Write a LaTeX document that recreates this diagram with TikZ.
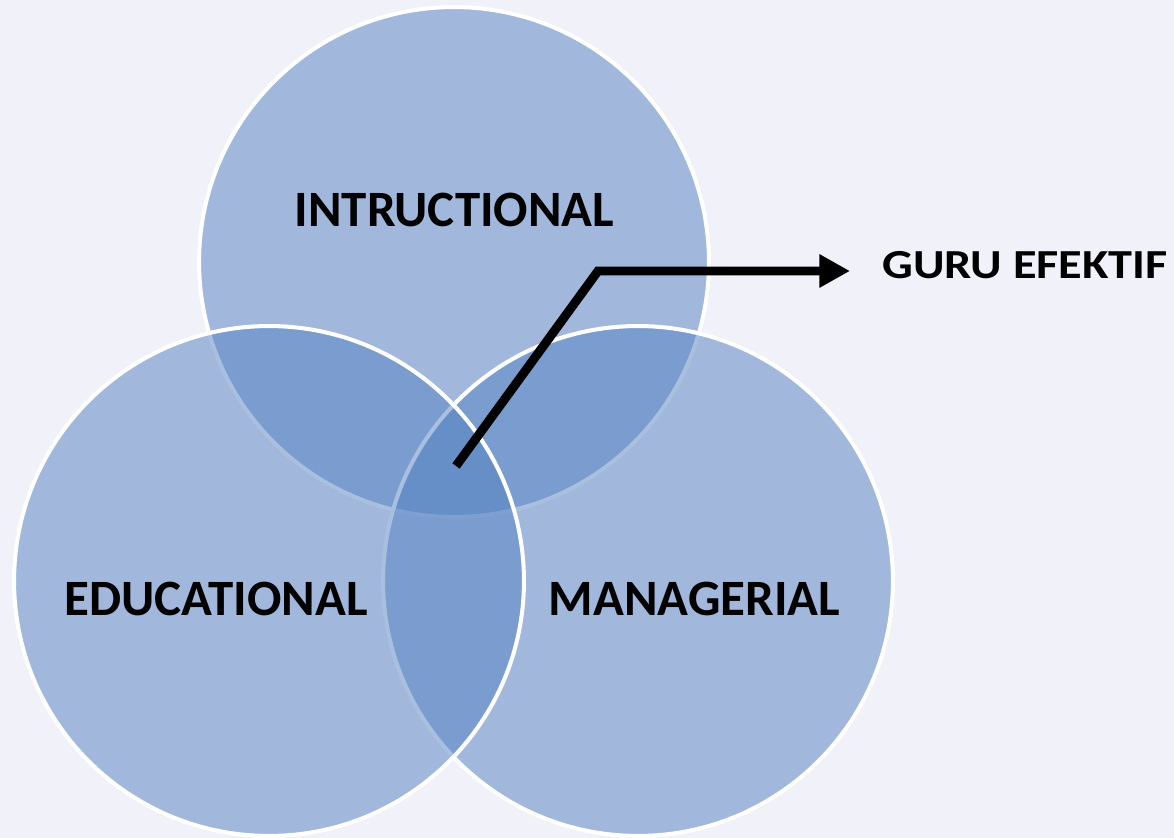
\documentclass[tikz,border=0pt]{standalone}
\usepackage{fontspec}
\setmainfont{Carlito}
\usepackage{tikz}
\usetikzlibrary{arrows.meta}

\definecolor{backcol}{RGB}{240,241,249}
\definecolor{ringcol}{RGB}{84,129,193}

\begin{document}
\begin{tikzpicture}[x=0.02cm, y=-0.02cm, >={Triangle[length=17.5pt, width=18pt]},
    ring/.style={circle, draw=white, line width=2.3pt, fill=ringcol, fill opacity=0.5,
        minimum size=10.2cm, inner sep=0pt},
    tag/.style={font=\bfseries\fontsize{29}{34}\selectfont, inner sep=0pt}]
    % The background
    \fill[backcol] (0,0) rectangle (1174,838);
    \useasboundingbox (0,0) rectangle (1174,838);

    % circles
    \node[ring] (instr) at (454,262) {};
    \node[ring] (manag) at (638,581) {};
    \node[ring] (educ) at (269,581) {};

    % labels
    \node[tag] (instrtag) at (454.5,209.5) {INTRUCTIONAL};
    \node[tag] (eductag) at (216,598.5) {EDUCATIONAL};
    \node[tag] (managtag) at (694.5,599) {MANAGERIAL};
    \node[tag, font=\bfseries\fontsize{23.5}{28}\selectfont] (guru) at (1025,265)
        {\scalebox{1.17}[1]{GURU EFEKTIF}};

    % pointer
    \coordinate (core) at (456,466);
    \coordinate (bend) at (598,271);
    \coordinate (tip) at (850,271);
    \draw[line width=5.1pt, line join=miter, ->] (core) -- (bend) -- (tip);
\end{tikzpicture}
\end{document}
